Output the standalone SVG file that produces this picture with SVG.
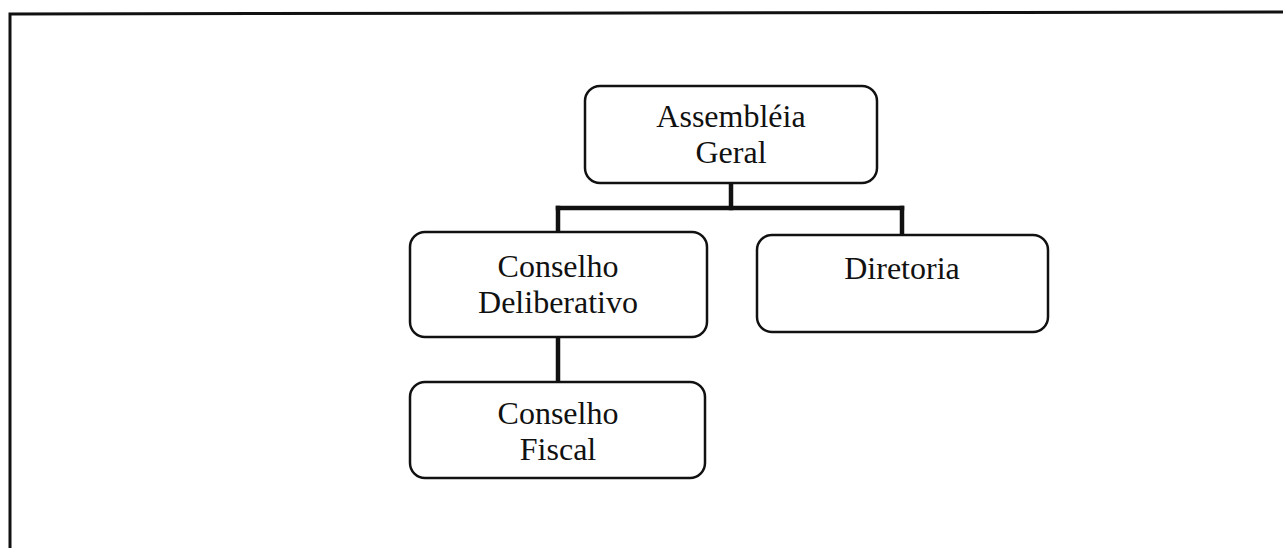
<svg xmlns="http://www.w3.org/2000/svg" width="1283" height="548" viewBox="0 0 1283 548">
  <style>
    .box { fill: #ffffff; stroke: #111111; stroke-width: 2.5; }
    .link { fill: none; stroke: #111111; stroke-width: 4.5; stroke-linecap: square; }
    .frame { fill: none; stroke: #111111; stroke-width: 3; }
    .label { font-family: "Liberation Serif", "Times New Roman", serif; font-size: 32px; fill: #111111; text-anchor: middle; }
  </style>
  <rect x="0" y="0" width="1283" height="548" fill="#ffffff"/>

  <!-- outer frame (left and top edges) -->
  <path class="frame" d="M10,548 L10,14 L1283,12"/>

  <!-- connectors -->
  <g id="connectors">
    <path class="link" d="M731,184 L731,208"/>
    <path class="link" d="M558,208 L902,208"/>
    <path class="link" d="M558,208 L558,231"/>
    <path class="link" d="M902,208 L902,234"/>
    <path class="link" d="M558,338 L558,381"/>
  </g>

  <g id="assembleia-geral">
    <rect class="box" x="585" y="86" width="292" height="97" rx="15"/>
    <text class="label" x="731" y="127">Assembléia</text>
    <text class="label" x="731" y="163">Geral</text>
  </g>

  <g id="conselho-deliberativo">
    <rect class="box" x="410" y="232" width="297" height="105" rx="15"/>
    <text class="label" x="558" y="277">Conselho</text>
    <text class="label" x="558" y="313">Deliberativo</text>
  </g>

  <g id="diretoria">
    <rect class="box" x="757" y="235" width="291" height="97" rx="15"/>
    <text class="label" x="902" y="279">Diretoria</text>
  </g>

  <g id="conselho-fiscal">
    <rect class="box" x="410" y="382" width="295" height="96" rx="15"/>
    <text class="label" x="558" y="424">Conselho</text>
    <text class="label" x="558" y="460">Fiscal</text>
  </g>
</svg>
